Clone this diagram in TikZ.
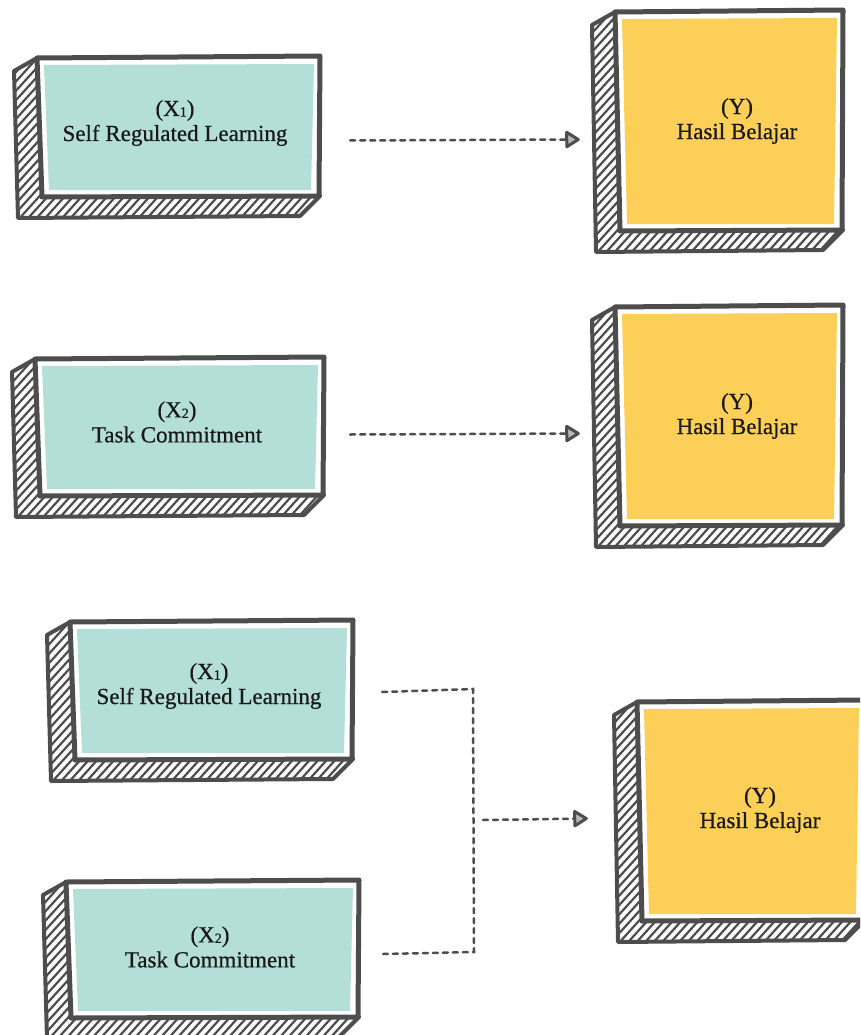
\documentclass[tikz,border=0pt]{standalone}
\usepackage{fontspec}
\setmainfont{Liberation Serif}
\newfontfamily\lblfont[FakeBold=0.6]{Liberation Serif}
\usetikzlibrary{arrows.meta,calc}
\definecolor{ink}{HTML}{4D4D4D}
\definecolor{boxteal}{HTML}{B4DFD8}
\definecolor{boxyellow}{HTML}{FBCF58}
\newcommand{\subdig}[1]{\raisebox{-0.5pt}{\fontsize{14}{14}\selectfont #1}}
\tikzset{
  skhatch/.style={ink, line width=2.2pt},
  sidecut/.style={ink, line width=4pt, line join=round, line cap=round},
  skframe/.style={ink, line width=5pt, line join=round, fill=white},
  skface/.style={inner sep=0pt, draw=none},
  lbl/.style={align=center, inner sep=0pt, text=black!90, font=\lblfont\fontsize{23}{25}\selectfont},
  conn/.style={ink, line width=2.5pt, dash pattern=on 5pt off 5pt, line cap=round},
  arrowtip/.style={-{Triangle[length=16pt,width=19pt,line width=3pt,fill=ink!40,round]}}
}
\newcommand{\skbox}[6]{%
  \pgfmathsetmacro\bL{#2-7}%
  \pgfmathsetmacro\bT{#3-7}%
  \pgfmathsetmacro\bR{#4+6}%
  \pgfmathsetmacro\bB{#5+6}%
  \pgfmathsetmacro\bW{#4-#2}%
  \pgfmathsetmacro\bH{#5-#3}%
  \fill[white] (\bL,\bT) -- ({\bL-23},{\bT+13}) -- ({\bL-19},{\bB+22}) -- ({\bR-20},{\bB+20}) -- (\bR,\bB) -- cycle;
  \begin{scope}
    \clip (\bL,\bT) -- ({\bL-23},{\bT+13}) -- ({\bL-19},{\bB+22}) -- ({\bR-20},{\bB+20}) -- (\bR,\bB) -- cycle;
    \foreach \k in {0,8.5,...,630} \draw[skhatch] ({\bL-305+\k},{\bB+30}) -- ++(250,-276);
  \end{scope}
  \draw[sidecut] (\bL,\bT) -- ({\bL-23},{\bT+13}) -- ({\bL-19},{\bB+22}) -- ({\bR-20},{\bB+20}) -- (\bR,\bB);
  \draw[skframe] (\bL,\bT) -- (\bR,{\bT-2}) -- ({\bR-1},\bB) -- ({\bL+5},{\bB+1}) -- cycle;
  \fill[#6] (#2,#3) -- (#4,{#3-1}) -- ({#4-3},#5) -- ({#2+5},#5) -- cycle;
  \node[skface, minimum width=\bW pt, minimum height=\bH pt] (#1) at ({(#2+#4)/2},{(#3+#5)/2}) {};
}
\begin{document}
\begin{tikzpicture}[x=1pt,y=-1pt]
\path[use as bounding box] (0,0) rectangle (860,1035);
\clip (0,0) rectangle (860,1035);

% row 1
\skbox{x1a}{44}{65}{314}{190}{boxteal}
\node[lbl] (x1at) at (175,123) {(X\subdig{1})\\Self Regulated Learning};
\skbox{y1}{622}{19}{837}{224}{boxyellow}
\node[lbl] (y1t) at (737,121) {(Y)\\Hasil Belajar};

% row 2
\skbox{x2a}{42}{366}{318}{489}{boxteal}
\node[lbl] (x2at) at (177,422) {(X\subdig{2})\\Task Commitment};
\skbox{y2}{622}{314}{837}{519}{boxyellow}
\node[lbl] (y2t) at (737,416) {(Y)\\Hasil Belajar};

% row 3
\skbox{x1b}{77}{629}{347}{753}{boxteal}
\node[lbl] (x1bt) at (209,686) {(X\subdig{1})\\Self Regulated Learning};
\skbox{x2b}{73}{889}{353}{1011}{boxteal}
\node[lbl] (x2bt) at (210,947) {(X\subdig{2})\\Task Commitment};
\skbox{y3}{644}{709}{859}{914}{boxyellow}
\node[lbl] (y3t) at (760,810) {(Y)\\Hasil Belajar};

% connectors
\draw[conn, arrowtip] ($(x1a.east)+(36,13)$) -- ($(y1.west)+(-42,18)$);
\draw[conn, arrowtip] ($(x2a.east)+(32,7)$) -- ($(y2.west)+(-42,17)$);
\coordinate (j1) at (473,689);
\coordinate (j2) at (474,952);
\coordinate (jm) at (483,820);
\draw[conn] ($(x1b.east)+(35,1)$) -- (j1) -- (j2) -- ($(x2b.east)+(30,4)$);
\draw[conn, arrowtip] (jm) -- ($(y3.west)+(-56,7)$);
\end{tikzpicture}
\end{document}
